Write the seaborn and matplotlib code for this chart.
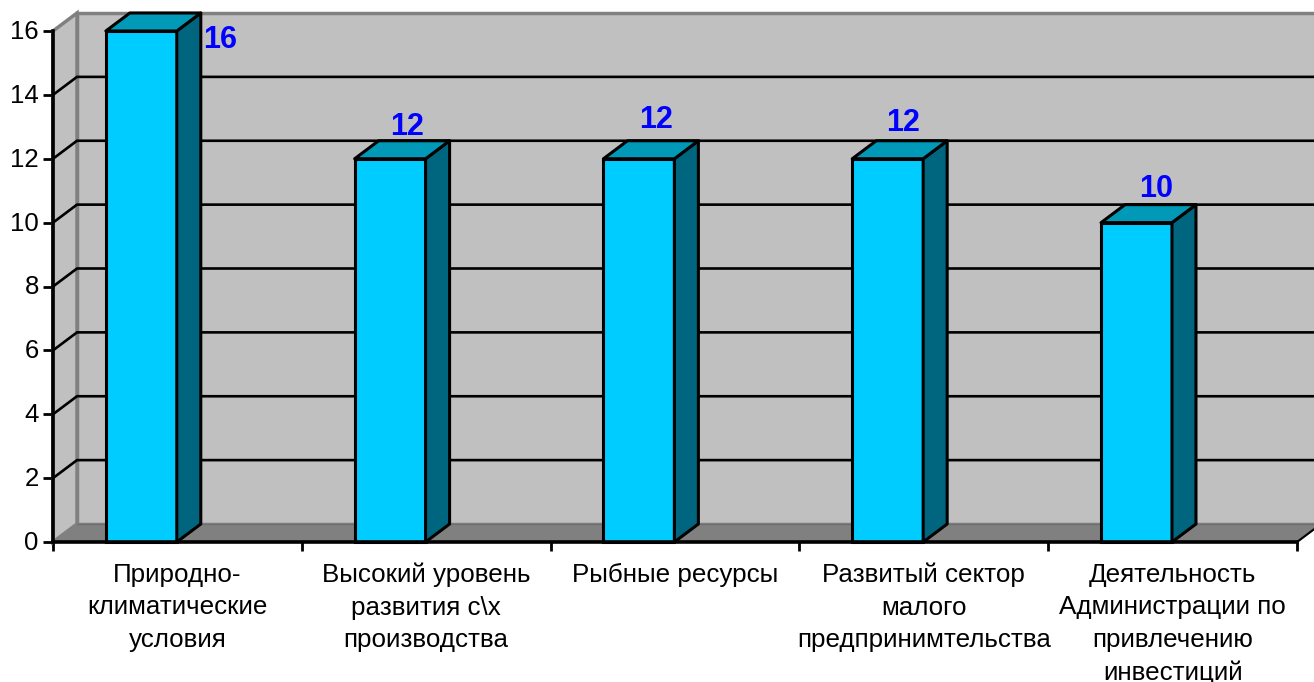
import matplotlib
matplotlib.use("Agg")
import matplotlib.pyplot as plt
from matplotlib.patches import Polygon
from matplotlib.transforms import ScaledTranslation
import seaborn as sns
import pandas as pd

categories = ["Природно-\nклиматические\nусловия",
              "Высокий уровень\nразвития с\\х\nпроизводства",
              "Рыбные ресурсы",
              "Развитый сектор\nмалого\nпредпринимтельства",
              "Деятельность\nАдминистрации по\nпривлечению\nинвестиций"]
values = [16, 12, 12, 12, 10]
y_ticks = list(range(0, 17, 2))

# value-label offsets from the bar's front top-centre, in pixels
label_dx = [79, 17, 17, 15, 20]
label_dy = [-9, 32, 39, 36, 34]

W, H = 1314, 682
LEFT, RIGHT, BASE, TOP = 53, 1297, 542, 31
FACE, SIDE, ROOF = "#00CCFF", "#006680", "#0099B8"
WALL, FLOOR, RIM = "#C0C0C0", "#808080", "#808080"

sns.set_theme(style="white")
plt.rcParams["font.family"] = ["Liberation Sans", "DejaVu Sans"]

fig = plt.figure(figsize=(W / 100, H / 100), dpi=100)
ax = fig.add_axes([LEFT / W, 1 - BASE / H, (RIGHT - LEFT) / W, (BASE - TOP) / H])
ax.patch.set_visible(False)

df = pd.DataFrame({"cat": categories, "value": values})
sns.barplot(data=df, x="cat", y="value", color=FACE, saturation=1, width=0.285,
            edgecolor="black", linewidth=2.2, ax=ax, zorder=5)

ax.set_xlim(-0.355, 4.645)
ax.set_ylim(0, 16)
x0, x1 = ax.get_xlim()
dx = 24 / (RIGHT - LEFT) * (x1 - x0)
dy = 18 / (BASE - TOP) * 16


def poly(pts, face, edge, lw=2.5, z=1, join="miter"):
    p = Polygon(pts, closed=True, facecolor=face, edgecolor=edge, linewidth=lw,
                clip_on=False, zorder=z, joinstyle=join)
    ax.add_patch(p)


# walls and floor
poly([(x0 + dx, dy), (x1 + dx, dy), (x1 + dx, 16 + dy), (x0 + dx, 16 + dy)], WALL, RIM, z=1)
poly([(x0, 0), (x0 + dx, dy), (x0 + dx, 16 + dy), (x0, 16)], WALL, RIM, z=1)
poly([(x0, 0), (x1, 0), (x1 + dx, dy), (x0 + dx, dy)], FLOOR, RIM, lw=1.2, z=2)
ax.plot([x0 + dx, x1 + dx], [dy, dy], color="#707070", lw=1.0, zorder=3, clip_on=False)

# gridlines
for v in y_ticks[1:-1]:
    ax.plot([x0, x0 + dx, x1 + dx], [v, v + dy, v + dy], color="black", lw=1.9,
            zorder=3, clip_on=False, solid_joinstyle="miter")
ax.plot([x1, x1 + dx], [0, dy], color="black", lw=1.5, zorder=3, clip_on=False)

# bar depth faces
for bar, val, ldx, ldy in zip(ax.patches, values, label_dx, label_dy):
    if bar.get_height() == 0:
        continue
    l, w, h = bar.get_x(), bar.get_width(), bar.get_height()
    r = l + w
    bar.set_clip_on(False)
    poly([(r, 0), (r + dx, dy), (r + dx, h + dy), (r, h)], SIDE, "black", 2.2, 6, "round")
    poly([(l, h), (r, h), (r + dx, h + dy), (l + dx, h + dy)], ROOF, "black", 2.2, 6, "round")
    ax.annotate(str(val), xy=(l + w / 2, h), xycoords="data",
                xytext=(ldx, ldy), textcoords=("offset pixels"),
                ha="center", va="center", color="#0000FF", fontsize=22,
                fontweight="bold", zorder=8, annotation_clip=False)

# axes
for s in ("top", "right"):
    ax.spines[s].set_visible(False)
for s in ("left", "bottom"):
    ax.spines[s].set_color("black")
    ax.spines[s].set_linewidth(2.6)
    ax.spines[s].set_zorder(7)

ax.set_xlabel("")
ax.set_ylabel("")
ax.set_yticks(y_ticks)
ax.tick_params(axis="y", length=7.2, width=2, color="black", left=True,
               labelsize=18.5, labelcolor="black", pad=3)
shift = ScaledTranslation(0, 1.5 / 100, fig.dpi_scale_trans)
for t in ax.get_yticklabels():
    t.set_transform(t.get_transform() + shift)
ax.set_xticks([i + x0 for i in range(6)])
ax.set_xticklabels([""] * 6)
ax.tick_params(axis="x", which="major", length=9 * 0.72, width=2, color="black", bottom=True)
ax.set_xticks([i + x0 + 0.5 for i in range(5)], minor=True)
ax.set_xticklabels(categories, minor=True, fontsize=18.7, color="black", linespacing=1.44)
ax.tick_params(axis="x", which="minor", length=0, pad=15)
for t in ax.get_xticklabels(minor=True):
    t.set_clip_on(False)

fig.savefig("out.png", dpi=100, facecolor="white")
